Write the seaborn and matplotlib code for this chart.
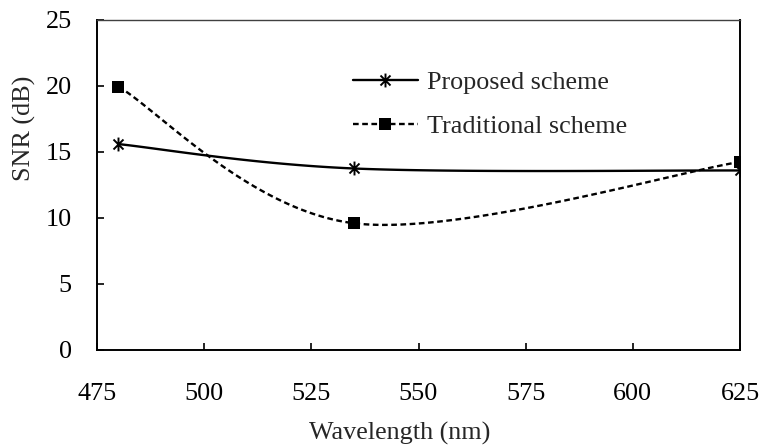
import numpy as np
import matplotlib
matplotlib.use("Agg")
import matplotlib.pyplot as plt
from matplotlib.path import Path
from matplotlib.lines import Line2D
import seaborn as sns

# ---- data ----
wavelength = [480, 535, 625]
proposed = [15.6, 13.75, 13.6]
traditional = [19.95, 9.6, 14.25]
x_ticks = [475, 500, 525, 550, 575, 600, 625]
y_ticks = [0, 5, 10, 15, 20, 25]
series_labels = ["Proposed scheme", "Traditional scheme"]
x_label = "Wavelength (nm)"
y_label = "SNR (dB)"


def smooth(xs, ys, n=60):
    """Excel-style smoothed line (Catmull-Rom Bezier)."""
    p = np.column_stack([xs, ys]).astype(float)
    pts = []
    for i in range(len(p) - 1):
        p0 = p[i - 1] if i > 0 else p[i]
        p1, p2 = p[i], p[i + 1]
        p3 = p[i + 2] if i + 2 < len(p) else p[i + 1]
        c1 = p1 + (p2 - p0) / 6.0
        c2 = p2 - (p3 - p1) / 6.0
        t = np.linspace(0, 1, n)[:, None]
        seg = ((1 - t) ** 3) * p1 + 3 * ((1 - t) ** 2) * t * c1 + 3 * (1 - t) * t ** 2 * c2 + t ** 3 * p2
        pts.append(seg if i == 0 else seg[1:])
    arr = np.vstack(pts)
    return arr[:, 0], arr[:, 1]


sns.set_style("ticks")
plt.rcParams["font.family"] = ["Liberation Serif", "DejaVu Serif"]
fs = 18.8

star = Path([(0, -1), (0, 1), (-0.72, -0.72), (0.72, 0.72), (-0.72, 0.72), (0.72, -0.72)],
            [Path.MOVETO, Path.LINETO, Path.MOVETO, Path.LINETO, Path.MOVETO, Path.LINETO])

fig = plt.figure(figsize=(7.61, 4.45), dpi=100)
ax = fig.add_axes([97 / 761, 95 / 445, 643 / 761, 330 / 445])

lw = 1.7
dash = (0, (2.4, 1.5))
star_kw = dict(marker=star, markersize=10, markeredgewidth=1.4,
               markeredgecolor="black", markerfacecolor="none")
sq_kw = dict(marker="s", markersize=8.5, markeredgewidth=0,
             markeredgecolor="black", markerfacecolor="black")

xs, ys = smooth(wavelength, proposed)
sns.lineplot(x=xs, y=ys, sort=False, color="black", lw=lw, ax=ax)
xs2, ys2 = smooth(wavelength, traditional)
sns.lineplot(x=xs2, y=ys2, sort=False, color="black", lw=lw, ax=ax, linestyle=dash)

sns.lineplot(x=wavelength, y=proposed, sort=False, color="black",
             linestyle="none", ax=ax, **star_kw)
sns.lineplot(x=wavelength, y=traditional, sort=False, color="black",
             linestyle="none", ax=ax, **sq_kw)

ax.set_xlim(475, 625)
ax.set_ylim(0, 25)
ax.set_xticks(x_ticks)
ax.set_yticks(y_ticks)
ax.set_xticklabels([str(v) for v in x_ticks], fontsize=fs)
ax.set_yticklabels([str(v) for v in y_ticks], fontsize=fs)
ax.tick_params(axis="x", direction="in", length=5, width=1.2, pad=24, colors="black")
ax.tick_params(axis="y", direction="in", length=5, width=1.2, pad=18, colors="black")

for side in ["left", "bottom", "right"]:
    ax.spines[side].set_visible(True)
    ax.spines[side].set_color("black")
    ax.spines[side].set_linewidth(1.4)
ax.spines["top"].set_visible(True)
ax.spines["top"].set_color("#404040")
ax.spines["top"].set_linewidth(1.0)

ax.set_xlabel(x_label, fontsize=fs)
ax.set_ylabel(y_label, fontsize=fs)
ax.xaxis.set_label_coords(0.470, -0.218)
ax.yaxis.set_label_coords(-0.095, 0.673)

handles = [
    Line2D([], [], color="black", lw=lw, **star_kw),
    Line2D([], [], color="black", lw=lw, linestyle=dash, **sq_kw),
]
ax.legend(handles, series_labels, loc="upper left", bbox_to_anchor=(0.3977, 0.846),
          frameon=False, fontsize=fs, borderpad=0, borderaxespad=0,
          handlelength=2.5, handletextpad=0.35, labelspacing=0.8)

fig.savefig("out.png", dpi=100)
